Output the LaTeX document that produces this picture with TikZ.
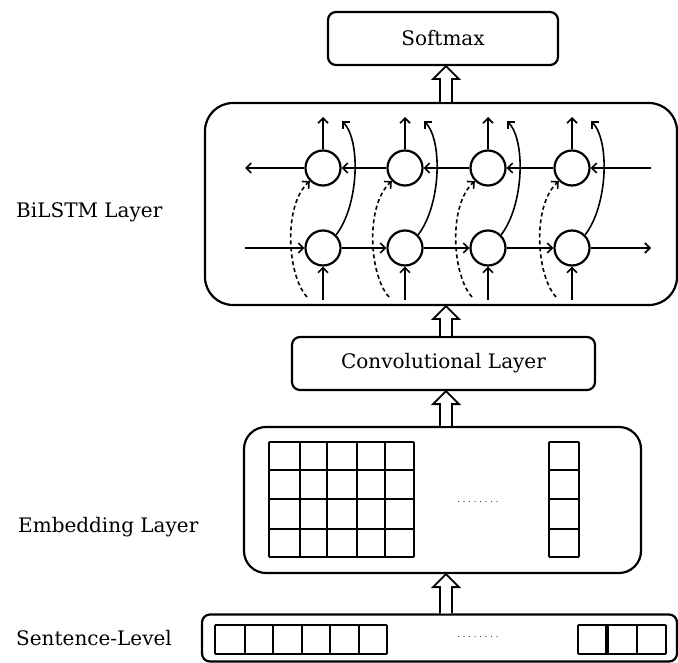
\documentclass[tikz,border=0pt]{standalone}
\usepackage{fontspec}
\setmainfont{DejaVu Serif}
\usetikzlibrary{arrows.meta,calc}
\tikzset{
  box/.style={draw, line width=2.2pt, rounded corners=8pt, inner sep=0pt},
  txt/.style={font=\fontsize{20}{24}\selectfont},
  lbl/.style={txt, anchor=west, inner sep=0pt},
  cell/.style={draw, circle, line width=2.2pt, minimum size=35pt, inner sep=0pt},
  conn/.style={line width=1.6pt, -{Straight Barb[length=5pt,width=10pt,line width=1.6pt]}},
  dconn/.style={conn, dash pattern=on 4pt off 3pt},
  harr/.style={draw, line width=1.8pt, fill=white, line join=miter},
  grid/.style={line width=2pt},
}
\newcommand{\harrow}[2]{\draw[harr] ($(#1)+(-6,0)$) -- ($(#2)+(-6,13)$) -- ($(#2)+(-13,13)$) -- (#2) -- ($(#2)+(13,13)$) -- ($(#2)+(6,13)$) -- ($(#1)+(6,0)$);}
\newcommand{\dotrow}{\hbox to 44pt{\xleaders\hbox to 5.5pt{\hss.\hss}\hfill}}
\begin{document}
\begin{tikzpicture}[x=1pt,y=-1pt]
\useasboundingbox (0,0) rectangle (678,663);
% boxes
\node[box, txt, minimum width=230pt, minimum height=53pt] (soft) at (443,38.5) {Softmax};
\node[box, rounded corners=28pt, minimum width=472pt, minimum height=202pt] (bil) at (441,204) {};
\node[box, txt, minimum width=303pt, minimum height=53pt] (conv) at (443.5,363.5) {Convolutional Layer};
\node[box, rounded corners=22pt, minimum width=397pt, minimum height=146pt] (emb) at (442.5,500) {};
\node[box, minimum width=475pt, minimum height=47pt] (sent) at (439.5,638) {};
% labels
\node[lbl] (lb1) at (16,212) {BiLSTM Layer};
\node[lbl] (lb2) at (18,527) {Embedding Layer};
\node[lbl] (lb3) at (16,638) {Sentence-Level};
% hollow arrows
\coordinate (ax) at (446,0);
\harrow{bil.north -| ax}{soft.south -| ax}
\harrow{conv.north -| ax}{bil.south -| ax}
\harrow{emb.north -| ax}{conv.south -| ax}
\harrow{sent.north -| ax}{emb.south -| ax}
% BiLSTM cells
\foreach \i/\x in {1/323,2/405,3/488,4/572}{
  \node[cell] (u\i) at (\x,168) {};
  \node[cell] (l\i) at (\x,248) {};
  \coordinate (o\i) at (\x,117);
  \coordinate (in\i) at (\x,300);
  \coordinate (ds\i) at (\x-16,297);
  \coordinate (ce\i) at (\x+19,121);
}
\coordinate (uR) at (651,168);
\coordinate (uL) at (245,168);
\coordinate (lL) at (245,248);
\coordinate (lR) at (651,248);
\draw[conn] (uR) -- (u4.east);
\draw[conn] (u4.west) -- (u3.east);
\draw[conn] (u3.west) -- (u2.east);
\draw[conn] (u2.west) -- (u1.east);
\draw[conn] (u1.west) -- (uL);
\draw[conn] (lL) -- (l1.west);
\draw[conn] (l1.east) -- (l2.west);
\draw[conn] (l2.east) -- (l3.west);
\draw[conn] (l3.east) -- (l4.west);
\draw[conn] (l4.east) -- (lR);
\foreach \i/\x in {1/323,2/405,3/488,4/572}{
  \draw[conn] (u\i.north) -- (o\i);
  \draw[conn] (in\i) -- (l\i.south);
  \draw[conn] (l\i.45) .. controls (\x+36,205) and (\x+38,140) .. (ce\i);
  \draw[dconn] (ds\i) .. controls (\x-36,275) and (\x-40,205) .. (u\i.225);
}
% embedding grid
\foreach \xx in {269,300,327,357,385,414}{\draw[grid] (\xx,442) -- (\xx,557);}
\foreach \yy in {442,470,499,529,557}{\draw[grid] (269,\yy) -- (414,\yy);}
\foreach \yy in {442,470,499,529,557}{\draw[grid] (549,\yy) -- (579,\yy);}
\draw[grid] (549,442) -- (549,557) (579,442) -- (579,557);
\node[inner sep=0pt, font=\fontsize{8}{8}\selectfont] (d1) at (478,502) {\dotrow};
% sentence cells
\foreach \xx in {215,245,273,302,330,359,387}{\draw[grid] (\xx,625) -- (\xx,654);}
\draw[grid] (215,625) -- (387,625) (215,654) -- (387,654);
\foreach \xx in {578,637,666}{\draw[grid] (\xx,625) -- (\xx,654);}
\draw[line width=3.5pt] (607,625) -- (607,654);
\draw[grid] (578,625) -- (666,625) (578,654) -- (666,654);
\node[inner sep=0pt, font=\fontsize{8}{8}\selectfont] (d2) at (478,637) {\dotrow};
\end{tikzpicture}
\end{document}
